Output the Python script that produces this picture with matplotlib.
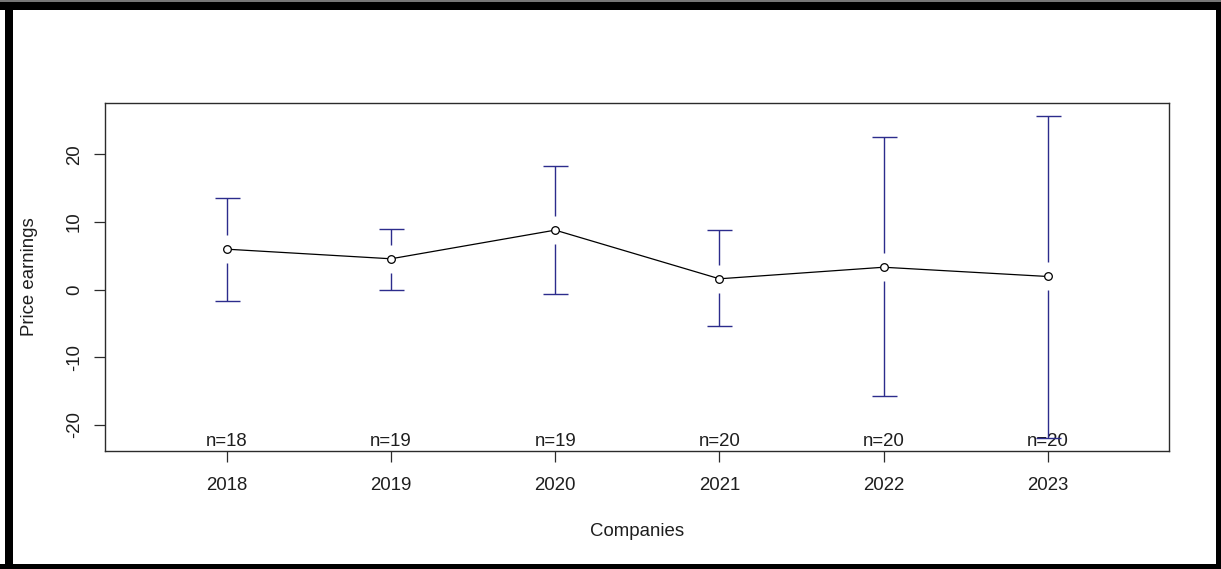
import matplotlib
matplotlib.use("Agg")
import matplotlib.pyplot as plt
from matplotlib.patches import Rectangle
from matplotlib.transforms import offset_copy

plt.rcParams["font.family"] = ["Liberation Sans", "DejaVu Sans"]

# Mean price/earnings per year with 95% confidence bounds
years = ["2018", "2019", "2020", "2021", "2022", "2023"]
means = [5.97, 4.55, 8.79, 1.59, 3.30, 1.93]
upper = [13.48, 8.93, 18.27, 8.74, 22.56, 25.73]
lower = [-1.73, 0.00, -0.70, -5.44, -15.70, -21.90]
counts = [18, 19, 19, 20, 20, 20]
yticks = [-20, -10, 0, 10, 20]

W, H, DPI = 1221, 569, 100
fig = plt.figure(figsize=(W / DPI, H / DPI), dpi=DPI)
fig.patch.set_facecolor("white")

# thick black frame around the whole figure (pixel extents)
def frame(x0, y0, x1, y1, color="black"):
    fig.add_artist(Rectangle((x0 / W, 1 - y1 / H), (x1 - x0) / W, (y1 - y0) / H,
                             transform=fig.transFigure, facecolor=color,
                             edgecolor="none", zorder=10))

frame(0, 0, W, 2, "#777777")
frame(0, 2, W, 10)
frame(5, 2, 13, H)
frame(1216, 2, W, H)
frame(0, 564, W, H)

left, right, top, bottom = 105.3, 1169.3, 102.7, 450.5
ax = fig.add_axes([left / W, 1 - bottom / H, (right - left) / W, (bottom - top) / H])

x = list(range(1, len(years) + 1))
lo_all = min(lower + means)
hi_all = max(upper + means)
span = hi_all - lo_all
ax.set_ylim(lo_all - 0.04 * span, hi_all + 0.04 * span)
xspan = len(years)
ax.set_xlim(0.5 - 0.04 * xspan, len(years) + 0.5 + 0.04 * xspan)

# gap between the mean marker and the start of each bar, in data units
px_per_unit = (bottom - top) / (ax.get_ylim()[1] - ax.get_ylim()[0])
gap = 14.0 / px_per_unit

bar_col = "#2c2c8c"
for xi, m, u, l in zip(x, means, upper, lower):
    if u - m > gap:
        ax.vlines(xi, m + gap, u, color=bar_col, lw=1.0, zorder=2)
    if m - l > gap:
        ax.vlines(xi, l, m - gap, color=bar_col, lw=1.0, zorder=2)
ax.plot(x, upper, ls="none", marker="_", ms=18, mew=1.0, color=bar_col, zorder=2)
ax.plot(x, lower, ls="none", marker="_", ms=18, mew=1.0, color=bar_col, zorder=2)

ax.plot(x, means, color="black", lw=0.9, zorder=3)
ax.plot(x, means, ls="none", marker="o", ms=5.5, mfc="white", mec="black",
        mew=0.9, zorder=4)

txt_col = "#1e1e1e"
fs = 13.4
ymin = ax.get_ylim()[0]
lab_tr = offset_copy(ax.transData, fig=fig, x=0, y=3.0, units="points")
for xi, n in zip(x, counts):
    ax.text(xi, ymin, f"n={n}", transform=lab_tr, ha="center", va="baseline",
            fontsize=fs, color=txt_col, zorder=1)

ax.set_xticks(x)
ax.set_xticklabels(years)
ax.set_yticks(yticks)
ax.set_yticklabels([str(v) for v in yticks], rotation=90, va="center")
ax.tick_params(axis="both", direction="out", length=8, width=0.9,
               color="#2b2b2b", labelsize=fs, labelcolor=txt_col)
ax.tick_params(axis="x", pad=11)
ax.tick_params(axis="y", pad=8)

for s in ax.spines.values():
    s.set_color("#2b2b2b")
    s.set_linewidth(1.0)

ax.set_xlabel("Companies", fontsize=fs, color=txt_col, va="center")
ax.xaxis.set_label_coords(0.5, (bottom - 531.0) / (bottom - top))
ax.set_ylabel("Price earnings", fontsize=fs, color=txt_col, va="center", ha="center")
ax.yaxis.set_label_coords((29.0 - left) / (right - left), 0.5)

fig.savefig("out.png", dpi=DPI, facecolor="white")
